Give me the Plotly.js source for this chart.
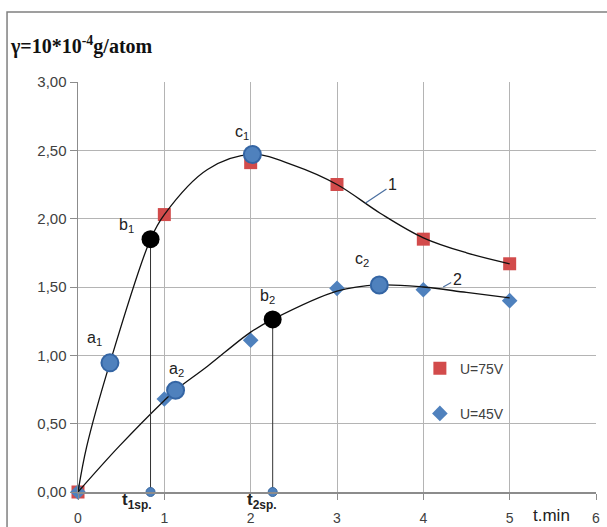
<!DOCTYPE html>
<html>
<head>
<meta charset="utf-8">
<script src="https://cdn.plot.ly/plotly-3.0.1.min.js"></script>
<style>html,body{margin:0;padding:0;background:#fff;}#chart{width:607px;height:527px;}</style>
</head>
<body>
<div id="chart"></div>
<script>
// measured series
const times = [0, 1, 2, 3, 4, 5];
const u75 = [0, 2.03, 2.41, 2.25, 1.85, 1.67];
const u45 = [0, 0.68, 1.11, 1.49, 1.48, 1.40];

// fitted curves
const curve1T = [0, 0.1, 0.37, 0.84, 1.0, 1.5, 2.02, 2.5, 3.0, 3.5, 4.0, 4.5, 5.0];
const curve1V = [0, 0.33, 0.945, 1.85, 2.03, 2.36, 2.47, 2.39, 2.25, 2.04, 1.86, 1.75, 1.67];
const curve2T = [0, 0.47, 1.0, 1.13, 1.5, 2.0, 2.255, 3.0, 3.49, 4.0, 4.5, 5.0];
const curve2V = [0, 0.33, 0.67, 0.745, 0.92, 1.17, 1.263, 1.47, 1.515, 1.50, 1.46, 1.42];

// characteristic points
const blueT = [0.37, 2.02, 1.13, 3.49];
const blueV = [0.945, 2.47, 0.745, 1.515];
const blackT = [0.84, 2.255];
const blackV = [1.85, 1.263];
const spT = [0.84, 2.255];
const spV = [0, 0];

// point labels
const pointLabels = ['a<sub>1</sub>', 'b<sub>1</sub>', 'c<sub>1</sub>', 'a<sub>2</sub>', 'b<sub>2</sub>', 'c<sub>2</sub>'];
const pointLabelT = [0.19, 0.56, 1.90, 1.14, 2.20, 3.29];
const pointLabelV = [1.12, 1.95, 2.63, 0.90, 1.43, 1.70];
const spLabels = ['t<sub>1sp.</sub>', 't<sub>2sp.</sub>'];
const spLabelT = [0.68, 2.13];
const curveLabels = ['1', '2'];
const curveTipT = [3.33, 4.23];
const curveTipV = [2.115, 1.50];

const xTickVals = [0, 1, 2, 3, 4, 5, 6];

const traces = [];
traces.push({x: times, y: u75, type: 'scatter', mode: 'markers', name: 'U=75V', legendgroup: 'a',
  marker: {symbol: 'square', size: 13, color: '#D24B4B'}, cliponaxis: false});
traces.push({x: times, y: u45, type: 'scatter', mode: 'markers', name: 'U=45V', legendgroup: 'b',
  marker: {symbol: 'diamond', size: 12, color: '#4F81BD'}, cliponaxis: false});
traces.push({x: curve1T, y: curve1V, type: 'scatter', mode: 'lines', showlegend: false,
  line: {color: '#111', width: 1.3, shape: 'spline', smoothing: 1}, cliponaxis: false});
traces.push({x: curve2T, y: curve2V, type: 'scatter', mode: 'lines', showlegend: false,
  line: {color: '#111', width: 1.3, shape: 'spline', smoothing: 1}, cliponaxis: false});
for (let i = 0; i < blackT.length; i++) {
  traces.push({x: [blackT[i], spT[i]], y: [blackV[i], spV[i]], type: 'scatter', mode: 'lines', showlegend: false,
    line: {color: '#333', width: 1}, cliponaxis: false});
}
traces.push({x: spT, y: spV, type: 'scatter', mode: 'markers', showlegend: false,
  marker: {symbol: 'circle', size: 9, color: '#4F81BD', line: {color: '#3B6AA0', width: 1}}, cliponaxis: false});
traces.push({x: blueT, y: blueV, type: 'scatter', mode: 'markers', showlegend: false,
  marker: {symbol: 'circle', size: 17, color: '#4F81BD', line: {color: '#3465A4', width: 2}}, cliponaxis: false});
traces.push({x: blackT, y: blackV, type: 'scatter', mode: 'markers', showlegend: false,
  marker: {symbol: 'circle', size: 18, color: '#000'}, cliponaxis: false});

const annotations = [];
for (let i = 0; i < pointLabels.length; i++) {
  annotations.push({x: pointLabelT[i], y: pointLabelV[i], xref: 'x', yref: 'y', text: pointLabels[i],
    showarrow: false, font: {family: 'Liberation Sans, Arial, sans-serif', size: 16, color: '#222'}});
}
for (let i = 0; i < spLabels.length; i++) {
  annotations.push({x: spLabelT[i], y: -0.022, xref: 'x', yref: 'paper', yanchor: 'middle', text: '<b>' + spLabels[i] + '</b>',
    showarrow: false, font: {family: 'Liberation Sans, Arial, sans-serif', size: 17, color: '#222'}});
}
const curveOffsets = [[27, -18], [14, -8]];
for (let i = 0; i < curveLabels.length; i++) {
  annotations.push({x: curveTipT[i], y: curveTipV[i], xref: 'x', yref: 'y', text: curveLabels[i],
    showarrow: true, arrowhead: 0, arrowwidth: 1.2, arrowcolor: '#4A6FA0', standoff: 0,
    ax: curveOffsets[i][0], ay: curveOffsets[i][1], axref: 'pixel', ayref: 'pixel',
    font: {family: 'Liberation Sans, Arial, sans-serif', size: 16, color: '#222'}});
}
annotations.push({x: 5.48, y: -0.058, xref: 'x', yref: 'paper', yanchor: 'middle', text: 't.min', showarrow: false,
  font: {family: 'Liberation Sans, Arial, sans-serif', size: 17, color: '#222'}});

const layout = {
  width: 607, height: 527,
  margin: {l: 78, r: 11, t: 82, b: 35},
  paper_bgcolor: '#fff', plot_bgcolor: '#fff',
  separators: ',.',
  title: {text: '<b>γ=10*10<sup>-4</sup>g/atom</b>', xref: 'container', yref: 'container',
    x: 0.018, xanchor: 'left', y: 0.912, yanchor: 'middle',
    font: {family: 'Liberation Serif, Times New Roman, serif', size: 20, color: '#111'}},
  xaxis: {range: [0, 6], tickvals: xTickVals, showgrid: true, gridcolor: '#B4B4B4', gridwidth: 1,
    zeroline: false, showline: true, linecolor: '#8C8C8C', linewidth: 1.5,
    ticks: 'outside', ticklen: 6, tickcolor: '#8C8C8C', ticklabelstandoff: 7,
    tickfont: {family: 'Liberation Sans, Arial, sans-serif', size: 14, color: '#404040'}, fixedrange: true},
  yaxis: {range: [0, 3], dtick: 0.5, tickformat: '.2f', showgrid: true, gridcolor: '#B4B4B4', gridwidth: 1,
    zeroline: false, showline: true, linecolor: '#8C8C8C', linewidth: 1.5,
    ticks: 'outside', ticklen: 7, tickcolor: '#8C8C8C',
    tickfont: {family: 'Liberation Sans, Arial, sans-serif', size: 15, color: '#404040'}, fixedrange: true},
  showlegend: true,
  legend: {x: 0.66, y: 0.34, xanchor: 'left', yanchor: 'top', bgcolor: 'rgba(0,0,0,0)',
    traceorder: 'grouped', tracegroupgap: 24, itemwidth: 30,
    font: {family: 'Liberation Sans, Arial, sans-serif', size: 14, color: '#404040'}},
  annotations: annotations,
  shapes: [{type: 'rect', xref: 'paper', yref: 'paper', x0: -0.137, y0: -0.2, x1: 1.1, y1: 1.1707,
    line: {color: '#808080', width: 1.5}, fillcolor: 'rgba(0,0,0,0)', layer: 'below'}]
};

Plotly.newPlot('chart', traces, layout, {displayModeBar: false, staticPlot: true});
</script>
</body>
</html>
